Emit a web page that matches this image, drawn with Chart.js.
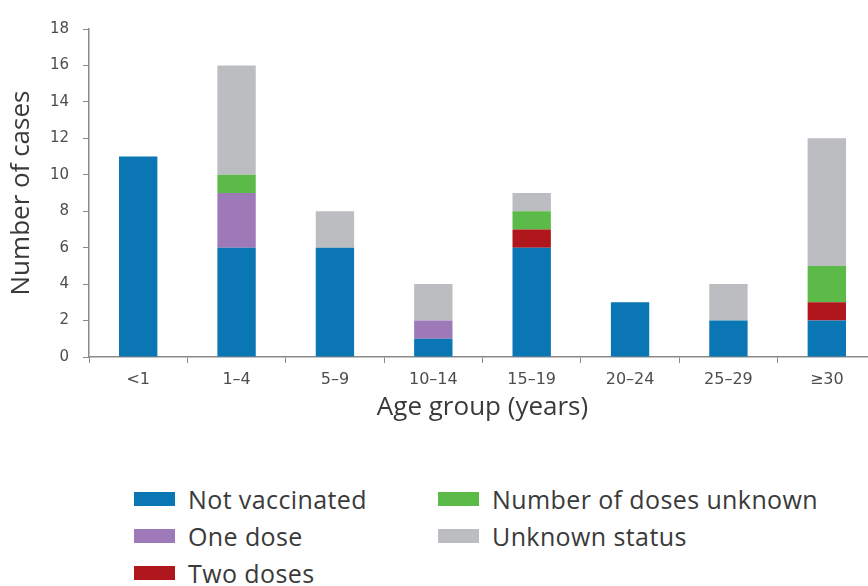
<!DOCTYPE html>
<html>
<head>
<meta charset="utf-8">
<script src="https://cdn.jsdelivr.net/npm/chart.js@4/dist/chart.umd.min.js"></script>
<style>
  html, body { margin: 0; padding: 0; background: #fff; overflow: hidden; width: 868px; height: 586px; }
  #wrap { position: relative; width: 868px; height: 586px; overflow: hidden; }
  #myChart { position: absolute; left: 0; top: 0; }
  #legend { position: absolute; left: 134px; top: 482px; width: 730px; font-family: "Open Sans", sans-serif; font-size: 25px; letter-spacing: 0.4px; color: #3a3a3a; }
  .item { position: absolute; display: flex; align-items: center; white-space: nowrap; height: 34px; }
  .box { width: 41px; height: 14px; margin-right: 13px; flex: none; }
</style>
</head>
<body>
<div id="wrap">
  <canvas id="myChart" width="880" height="430"></canvas>
  <div id="legend"></div>
</div>
<script>
const ageGroups = ["<1", "1–4", "5–9", "10–14", "15–19", "20–24", "25–29", "≥30"];
const notVaccinated = [11, 6, 6, 1, 6, 3, 2, 2];
const oneDose = [0, 3, 0, 1, 0, 0, 0, 0];
const twoDoses = [0, 0, 0, 0, 1, 0, 0, 1];
const dosesUnknown = [0, 1, 0, 0, 1, 0, 0, 2];
const unknownStatus = [0, 6, 2, 2, 1, 0, 2, 7];
const yTicks = [0, 2, 4, 6, 8, 10, 12, 14, 16, 18];

const series = [
    { label: "Not vaccinated", data: notVaccinated, color: "#0a76b4" },
    { label: "One dose", data: oneDose, color: "#9d79b8" },
    { label: "Two doses", data: twoDoses, color: "#b0171c" },
    { label: "Number of doses unknown", data: dosesUnknown, color: "#5cba48" },
    { label: "Unknown status", data: unknownStatus, color: "#bcbdc1" }
];

const axisColor = "#8a8a8a";

const ctx = document.getElementById("myChart");
new Chart(ctx, {
    type: "bar",
    data: {
        labels: ageGroups,
        datasets: series.map(s => ({
            label: s.label,
            data: s.data,
            backgroundColor: s.color,
            borderWidth: 0,
            barPercentage: 0.39,
            categoryPercentage: 1
        }))
    },
    options: {
        responsive: false,
        animation: false,
        layout: { padding: { top: 29, right: 4, left: 0, bottom: 0 } },
        plugins: { legend: { display: false }, tooltip: { enabled: false } },
        scales: {
            x: {
                stacked: true,
                grid: { drawOnChartArea: false, color: axisColor, tickLength: 6, tickColor: axisColor },
                border: { color: axisColor, width: 1.5 },
                ticks: { color: "#4d4d4d", font: { family: "DejaVu Sans", size: 16 }, padding: 7, maxRotation: 0 },
                title: { display: true, text: "Age group (years)", color: "#3a3a3a",
                         font: { family: "Open Sans", size: 26 }, padding: { top: 0, bottom: 7 } },
                afterFit: scale => { scale.height = 73; }
            },
            y: {
                stacked: true,
                min: 0,
                max: 18,
                afterBuildTicks: scale => { scale.ticks = yTicks.map(v => ({ value: v })); },
                grid: { drawOnChartArea: false, color: axisColor, tickLength: 6, tickColor: axisColor },
                border: { color: axisColor, width: 1.5 },
                ticks: { color: "#4d4d4d", font: { family: "DejaVu Sans", size: 15 }, padding: 14 },
                title: { display: true, text: "Number of cases", color: "#3a3a3a",
                         font: { family: "Open Sans", size: 26 }, padding: { top: 6, bottom: 0 } },
                afterFit: scale => { scale.width = 89; }
            }
        }
    }
});

const legendOrder = [[0, 0, 0], [1, 0, 1], [2, 0, 2], [3, 1, 0], [4, 1, 1]];
const legend = document.getElementById("legend");
legendOrder.forEach(([i, col, row]) => {
    const el = document.createElement("div");
    el.className = "item";
    el.style.left = (col * 304) + "px";
    el.style.top = (row * 37) + "px";
    el.innerHTML = '<span class="box" style="background:' + series[i].color + '"></span>' + series[i].label;
    legend.appendChild(el);
});
</script>
</body>
</html>
